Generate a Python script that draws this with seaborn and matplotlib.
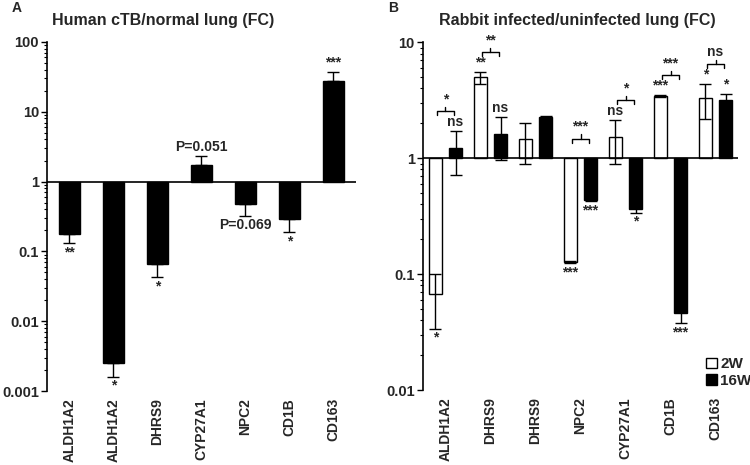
import numpy as np
import pandas as pd
import matplotlib
matplotlib.use("Agg")
import matplotlib.pyplot as plt
from matplotlib.patches import Patch
import seaborn as sns

# Panel A: human cTB / normal lung, fold change
genes_a = ["ALDH1A2", "ALDH1A2", "DHRS9", "CYP27A1", "NPC2", "CD1B", "CD163"]
fc_a = [0.18, 0.0025, 0.067, 1.74, 0.47, 0.29, 27.5]
err_a = [0.05, 0.0009, 0.024, 0.6, 0.15, 0.10, 9.5]
sig_a = ["**", "*", "*", "P=0.051", "P=0.069", "*", "***"]

# Panel B: rabbit infected / uninfected lung, fold change
genes_b = ["ALDH1A2", "DHRS9", "DHRS9", "NPC2", "CYP27A1", "CD1B", "CD163"]
weeks = ["2W", "16W"]
fc_2w = [0.067, 5.0, 1.46, 0.127, 1.52, 3.43, 3.3]
err_2w = [0.033, 0.6, 0.57, 0.003, 0.62, 0.08, 1.1]
fc_16w = [1.22, 1.61, 2.25, 0.435, 0.364, 0.046, 3.2]
err_16w = [0.5, 0.65, 0.05, 0.01, 0.024, 0.008, 0.4]
sig_2w = ["*", "**", "", "***", "ns", "***", "*"]
sig_16w = ["ns", "ns", "", "***", "*", "***", "*"]
sig_pair = ["*", "**", "", "***", "*", "***", "ns"]

sns.set_theme(style="white")
plt.rcParams["font.family"] = ["Liberation Sans", "DejaVu Sans"]
plt.rcParams["font.weight"] = "bold"
plt.rcParams["axes.labelweight"] = "bold"


def log_axis(ax, lo, hi):
    ax.set_ylim(lo, hi)
    ax.set_yticks(range(lo, hi + 1))
    ax.set_yticklabels([f"{10.0 ** k:g}" for k in range(lo, hi + 1)], fontsize=10.5)
    ax.set_yticks([k + np.log10(m) for k in range(lo, hi) for m in range(2, 10)], minor=True)
    ax.tick_params(axis="y", which="major", direction="out", length=4, width=1, left=True, color="black", pad=2)
    ax.tick_params(axis="y", which="minor", direction="out", length=2.5, width=0.8, left=True, color="black")
    ax.set_xlim(-0.5, 6.5)
    ax.axhline(0, color="black", lw=1.2, zorder=3)
    for s in ["top", "right", "bottom"]:
        ax.spines[s].set_visible(False)
    ax.spines["left"].set_color("black")
    ax.spines["left"].set_linewidth(1.2)
    ax.set_xlabel("")
    ax.set_ylabel("")


def gene_labels(ax, genes):
    ax.set_xticks(range(len(genes)))
    ax.set_xticklabels(genes, rotation=90, fontsize=10, fontweight="bold")
    ax.tick_params(axis="x", length=0, pad=5)


def err_and_label(ax, cx, fc, err, labels, two_sided, fs=10):
    fc = np.array(fc)
    err = np.array(err)
    ly = np.log10(fc)
    lo = ly - np.log10(fc - err)
    hi = np.log10(fc + err) - ly
    up = fc >= 1
    if not two_sided:
        lo = np.where(up, 0, lo)
        hi = np.where(up, hi, 0)
    ax.errorbar(cx, ly, yerr=[lo, hi], fmt="none", ecolor="black",
                elinewidth=1, capsize=4, capthick=1, zorder=4)
    for x, y, l, h, u, t in zip(cx, ly, lo, hi, up, labels):
        if not t:
            continue
        if u:
            ax.annotate(t, (x, y + h), xytext=(0, 1.5), textcoords="offset points",
                        ha="center", va="bottom", fontsize=fs, fontweight="bold")
        else:
            ax.annotate(t, (x, y - l), xytext=(0, -1.5), textcoords="offset points",
                        ha="center", va="top", fontsize=fs, fontweight="bold")
    return ly + hi


fig = plt.figure(figsize=(7.5, 4.65), dpi=100)
ax_a = fig.add_axes([0.063, 0.159, 0.411, 0.751])
ax_b = fig.add_axes([0.564, 0.161, 0.42, 0.748])

# Panel A
pos_a = list(range(len(genes_a)))
sns.barplot(x=pos_a, y=np.log10(fc_a), color="black", width=0.48,
            edgecolor="black", linewidth=1, ax=ax_a)
log_axis(ax_a, -3, 2)
gene_labels(ax_a, genes_a)
cx_a = [p.get_x() + p.get_width() / 2 for p in ax_a.patches]
err_and_label(ax_a, cx_a, fc_a, err_a, sig_a, two_sided=False)

# Panel B
df_b = pd.DataFrame({
    "pos": list(range(len(genes_b))) * 2,
    "week": ["2W"] * len(genes_b) + ["16W"] * len(genes_b),
    "log_fc": np.log10(fc_2w + fc_16w),
})
sns.barplot(data=df_b, x="pos", y="log_fc", hue="week", hue_order=weeks,
            palette={"2W": "white", "16W": "black"}, edgecolor="black",
            linewidth=1, width=0.89, gap=0.35, legend=False, ax=ax_b)
log_axis(ax_b, -2, 1)
gene_labels(ax_b, genes_b)
bars = list(ax_b.patches)
n = len(genes_b)
cx_2w = [p.get_x() + p.get_width() / 2 for p in bars[:n]]
cx_16w = [p.get_x() + p.get_width() / 2 for p in bars[n:2 * n]]
top_2w = err_and_label(ax_b, cx_2w, fc_2w, err_2w, sig_2w, two_sided=True)
top_16w = err_and_label(ax_b, cx_16w, fc_16w, err_16w, sig_16w, two_sided=True)

# comparison brackets between 2W and 16W
for i, t in enumerate(sig_pair):
    if not t:
        continue
    yb = max(0, top_2w[i], top_16w[i]) + 0.17
    x0, x1 = i - 0.18, i + 0.18
    ax_b.plot([x0, x0, x1, x1], [yb - 0.035, yb, yb, yb - 0.035], color="black", lw=1)
    ax_b.plot([i, i], [yb, yb + 0.035], color="black", lw=1)
    ax_b.annotate(t, (i, yb + 0.035), xytext=(0, 0.5), textcoords="offset points",
                  ha="center", va="bottom", fontsize=10, fontweight="bold")

fig.legend(handles=[Patch(facecolor="white", edgecolor="black", label="2W"),
                    Patch(facecolor="black", edgecolor="black", label="16W")],
           loc="lower right", bbox_to_anchor=(1.012, 0.15), frameon=False,
           handlelength=0.7, handleheight=0.7, handletextpad=0.2, labelspacing=0.15,
           borderpad=0, prop={"weight": "bold", "size": 11})

fig.text(163 / 750, 1 - 20 / 465, "Human cTB/normal lung (FC)", ha="center", va="center",
         fontsize=11.5, fontweight="bold")
fig.text(577 / 750, 1 - 20 / 465, "Rabbit infected/uninfected lung (FC)", ha="center", va="center",
         fontsize=11.5, fontweight="bold")
fig.text(12 / 750, 0.998, "A", ha="left", va="top", fontsize=10, fontweight="bold")
fig.text(388 / 750, 0.998, "B", ha="left", va="top", fontsize=10, fontweight="bold")

fig.savefig("out.png", dpi=100)
